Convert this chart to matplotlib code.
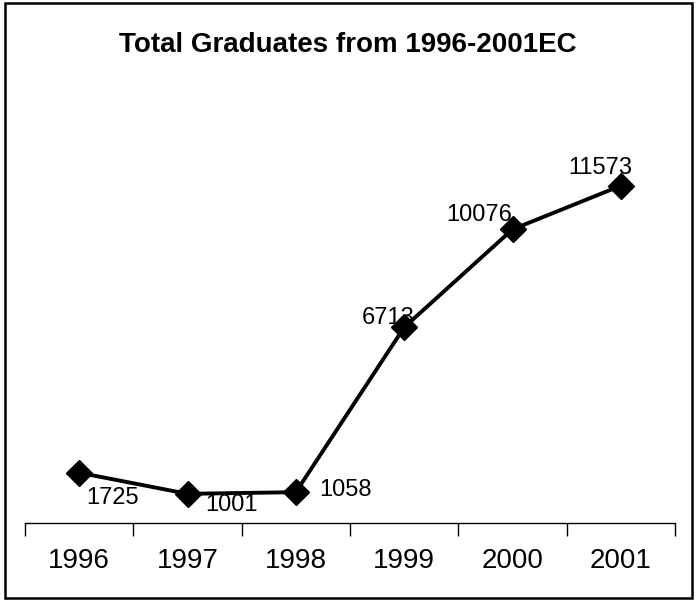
import matplotlib
matplotlib.use("Agg")
import matplotlib.pyplot as plt
from matplotlib.patches import Rectangle

years = ["1996", "1997", "1998", "1999", "2000", "2001"]
graduates = [1725, 1001, 1058, 6713, 10076, 11573]
title = "Total Graduates from 1996-2001EC"
# label offsets in pixels (dx right, dy down) relative to point
label_dx = [33, 44, 50, -16, -33, -21]
label_dy = [25, 11, -2, -9, -14, -18]

DPI = 100
W, H = 696, 601
plt.rcParams['font.family'] = ['Liberation Sans', 'DejaVu Sans']
fig = plt.figure(figsize=(W / DPI, H / DPI), dpi=DPI)
fig.patch.set_facecolor('white')

# figure frame
fig.add_artist(Rectangle((5 / W, 3 / H), (W - 9) / W, (H - 6) / H, transform=fig.transFigure,
                         fill=False, edgecolor='black', linewidth=1.8))

left, right_px, bottom_px, top_px = 25, 675, 523, 115
ax = fig.add_axes([left / W, (H - bottom_px) / H, (right_px - left) / W, (bottom_px - top_px) / H])
x = list(range(len(years)))
ax.plot(x, graduates, color='black', linewidth=2.8, marker='D', markersize=13,
        markerfacecolor='black', markeredgecolor='black', zorder=3, clip_on=False)
ax.set_xlim(-0.5, len(years) - 0.5)
ax.set_ylim(0, 14000)
for s in ['left', 'right', 'top']:
    ax.spines[s].set_visible(False)
ax.spines['bottom'].set_linewidth(1.0)
ax.set_yticks([])
ax.set_xticks(x)
ax.set_xticklabels(years, fontsize=20)
ax.tick_params(axis='x', which='major', length=0, pad=18)
ax.set_xticks([i - 0.5 for i in range(len(years) + 1)], minor=True)
ax.tick_params(axis='x', which='minor', length=9, width=1.0, direction='out')
ax.set_facecolor('none')

for xi, v, dx, dy in zip(x, graduates, label_dx, label_dy):
    ax.annotate(str(v), (xi, v), xytext=(dx * 0.72, -dy * 0.72), textcoords='offset points',
                ha='center', va='center', fontsize=17, color='black')

fig.text(348 / W, 1 - 45 / H, title, ha='center', va='center', fontsize=20, fontweight='bold')

fig.savefig('out.png', dpi=DPI)
